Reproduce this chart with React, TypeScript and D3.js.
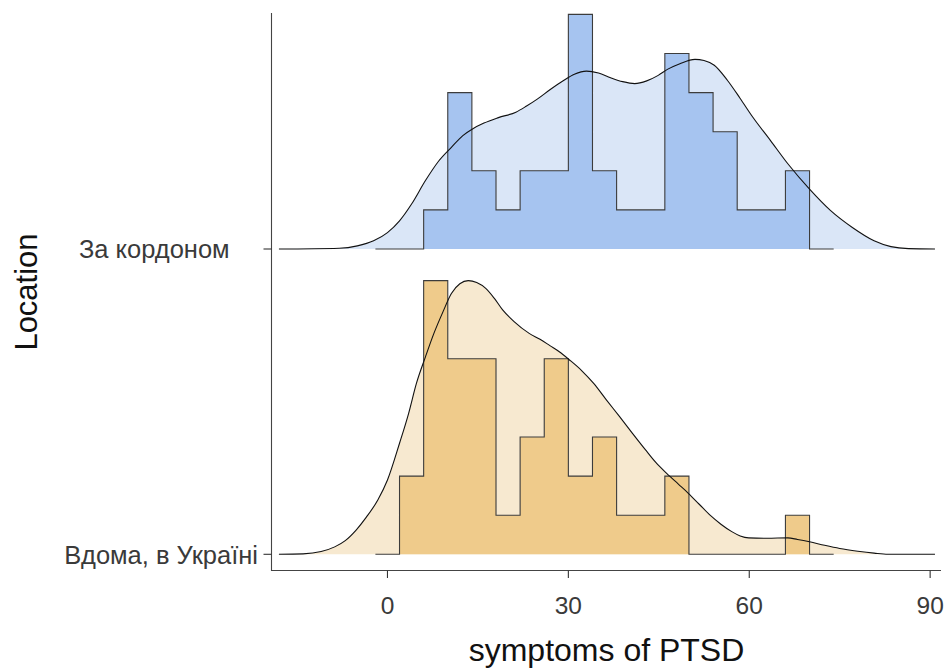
import React from 'react';
import * as d3 from 'd3';

// ---- data ----
const categories = ['Вдома, в Україні', 'За кордоном'];
const categoryLabels = ['Вдома, в Україні', 'За кордоном    '];
const xTicks = [0, 30, 60, 90];
const binStarts = [2, 6, 10, 14, 18, 22, 26, 30, 34, 38, 42, 46, 50, 54, 58, 62, 66];
const binWidth = 4;
const homeCounts = [2, 7, 5, 5, 1, 3, 5, 2, 3, 1, 1, 2, 0, 0, 0, 0, 1];
const abroadCounts = [0, 1, 4, 2, 1, 2, 2, 6, 2, 1, 1, 5, 4, 3, 1, 1, 2];

const abroadDensityX = [-18, -8, -5, -2.3, 0, 2, 4, 6.3, 8.5, 10.6, 12.5, 14.1, 16, 18.4, 21.3, 23, 24.9, 27, 29.2, 31, 33, 35, 37, 39, 41, 43, 44.9, 46.5, 48.5, 51, 52.5, 54.2, 56.4, 58.5, 60.6, 63.5, 66.4, 70, 73.5, 77.1, 80.7, 83.5, 86.4, 90.8];
const abroadDensityY = [0, 0.02, 0.08, 0.21, 0.42, 0.72, 1.15, 1.75, 2.25, 2.6, 2.9, 3.07, 3.22, 3.36, 3.5, 3.65, 3.84, 4.08, 4.31, 4.47, 4.55, 4.5, 4.38, 4.28, 4.23, 4.3, 4.44, 4.6, 4.74, 4.85, 4.82, 4.7, 4.31, 3.85, 3.37, 2.78, 2.18, 1.53, 0.98, 0.55, 0.21, 0.06, 0.01, 0];

const homeDensityX = [-18, -14, -11, -8.75, -7, -5.2, -3.5, -1.6, 0, 2, 3.5, 4.8, 6.3, 7.7, 9.2, 10.6, 12, 13.4, 14.8, 16.3, 17.7, 19.1, 21, 23.5, 25.3, 27, 28.5, 30.2, 32.2, 34.2, 36.3, 38.5, 40.6, 42.8, 44.5, 46.3, 48.2, 49.9, 51.7, 53.5, 55.3, 57.1, 58.5, 59.9, 63, 66.4, 68, 70, 72.5, 75, 78, 80.7, 83, 90.8];
const homeDensityY = [0, 0.01, 0.07, 0.19, 0.35, 0.62, 0.95, 1.39, 1.9, 2.84, 3.6, 4.37, 5.05, 5.65, 6.2, 6.67, 6.92, 7.0, 6.95, 6.8, 6.55, 6.25, 5.95, 5.65, 5.5, 5.33, 5.18, 4.97, 4.7, 4.37, 3.95, 3.52, 3.1, 2.67, 2.35, 2.07, 1.8, 1.56, 1.28, 1.0, 0.77, 0.58, 0.47, 0.42, 0.41, 0.42, 0.38, 0.32, 0.23, 0.15, 0.08, 0.03, 0, 0];

const histColors = ['#efcb8b', '#a6c4f0'];
const densColors = ['#f7e9d0', '#dae6f7'];

// ---- layout ----
const W = 947;
const H = 670;
const panel = { left: 272, right: 941, top: 13, bottom: 571 };
const FONT = '"Liberation Sans", Arial, sans-serif';

export default function App() {
  const x = d3.scaleLinear().domain([-19.15, 91.8]).range([panel.left, panel.right]);
  const yBase = d3.scalePoint<string>().domain(categories).range([554.3, 249]);
  const h = d3.scaleLinear().domain([0, 1]).range([0, 39.1]);

  const countsList = [homeCounts, abroadCounts];
  const densX = [homeDensityX, abroadDensityX];
  const densY = [homeDensityY, abroadDensityY];

  // draw top ridge first, then lower ridge
  const order = [1, 0];

  return (
    <div style={{ position: 'absolute', left: 0, top: 0 }}>
      <svg width={W} height={H} style={{ display: 'block', background: '#fff' }} fontFamily={FONT}>
        {order.map((gi) => {
          const cat = categories[gi];
          const base = yBase(cat) as number;
          const counts = countsList[gi];
          // histogram points with a padded empty bin on each side
          const starts = [binStarts[0] - binWidth, ...binStarts, binStarts[binStarts.length - 1] + binWidth];
          const cs = [0, ...counts, 0];
          const pts: [number, number][] = starts.map((s, i) => [s, cs[i]]);
          pts.push([starts[starts.length - 1] + binWidth, 0]);

          const histArea = d3
            .area<[number, number]>()
            .curve(d3.curveStepAfter)
            .x((d) => x(d[0]))
            .y0(base)
            .y1((d) => base - h(d[1]));
          const histLine = d3
            .line<[number, number]>()
            .curve(d3.curveStepAfter)
            .x((d) => x(d[0]))
            .y((d) => base - h(d[1]));

          const dpts: [number, number][] = densX[gi].map((v, i) => [v, densY[gi][i]]);
          const densArea = d3
            .area<[number, number]>()
            .curve(d3.curveMonotoneX)
            .x((d) => x(d[0]))
            .y0(base)
            .y1((d) => base - h(d[1]));
          const densLine = d3
            .line<[number, number]>()
            .curve(d3.curveMonotoneX)
            .x((d) => x(d[0]))
            .y((d) => base - h(d[1]));

          return (
            <g key={cat}>
              <path d={densArea(dpts) || ''} fill={densColors[gi]} stroke="none" />
              <path d={histArea(pts) || ''} fill={histColors[gi]} stroke="none" />
              <path d={histLine(pts) || ''} fill="none" stroke="#3c3c3c" strokeWidth={1.1} />
              <path d={densLine(dpts) || ''} fill="none" stroke="#111" strokeWidth={1.1} />
            </g>
          );
        })}

        {/* axes */}
        <line x1={panel.left - 0.5} x2={panel.right} y1={panel.bottom - 0.5} y2={panel.bottom - 0.5} stroke="#444" strokeWidth={1.1} />
        <line x1={panel.left - 0.5} x2={panel.left - 0.5} y1={panel.top} y2={panel.bottom} stroke="#444" strokeWidth={1.1} />

        {xTicks.map((t) => (
          <g key={t}>
            <line x1={x(t)} x2={x(t)} y1={panel.bottom - 0.5} y2={panel.bottom + 7} stroke="#333" strokeWidth={1.1} />
            <text x={x(t)} y={614} textAnchor="middle" fontSize={24.5} fill="#3a3a3a">
              {t}
            </text>
          </g>
        ))}

        {categories.map((c, i) => {
          const yy = yBase(c) as number;
          return (
            <g key={c}>
              <line x1={panel.left - 8.5} x2={panel.left - 0.5} y1={yy} y2={yy} stroke="#333" strokeWidth={1.1} />
              <text
                x={panel.left - 14}
                y={yy + 9.2}
                textAnchor="end"
                fontSize={25.5}
                fill="#3a3a3a"
                style={{ whiteSpace: 'pre' }}
              >
                {categoryLabels[i]}
              </text>
            </g>
          );
        })}

        <text x={(panel.left + panel.right) / 2} y={661} textAnchor="middle" fontSize={32} fill="#111">
          symptoms of PTSD
        </text>
        <text
          transform={`translate(${37},${(panel.top + panel.bottom) / 2}) rotate(-90)`}
          textAnchor="middle"
          fontSize={31}
          fill="#111"
        >
          Location
        </text>
      </svg>
    </div>
  );
}
